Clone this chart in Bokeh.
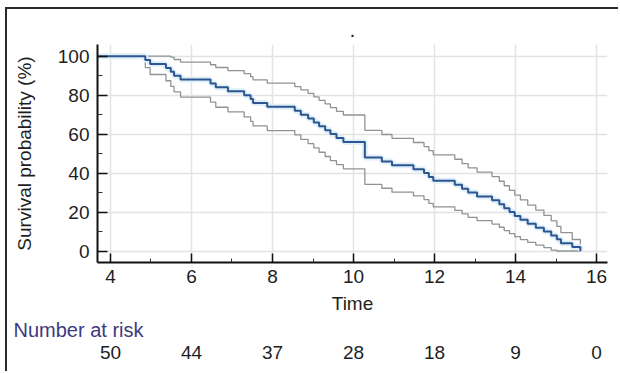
from bokeh.plotting import figure
from bokeh.models import Range1d, FixedTicker, LinearAxis, Title
from bokeh.embed import file_html
from bokeh.resources import INLINE

# ---- data (Kaplan-Meier estimate, n = 50) ----
event_time = [0, 4.86, 4.98, 5.37, 5.49, 5.57, 5.73,
              6.47, 6.6, 6.9, 7.3, 7.46, 7.52, 7.87,
              8.55, 8.7, 8.88, 9.02, 9.15, 9.3, 9.43, 9.58, 9.75,
              10.28, 10.7, 10.95, 11.48, 11.74, 11.86, 11.97,
              12.5, 12.68, 12.83, 13.05, 13.42, 13.6, 13.72, 13.85, 13.98,
              14.12, 14.3, 14.5, 14.7, 14.88, 15.02, 15.12, 15.4, 15.6]
survival = [100, 98, 96, 94, 92, 90, 88,
            86, 84, 82, 80, 78, 76, 74,
            72, 70, 68, 66, 64, 62, 60, 58, 56,
            48, 46, 44, 42, 40, 38, 36,
            34, 32, 30, 28, 26, 24, 22, 20, 18,
            16, 14, 12, 10, 8, 6, 4, 2, 0]
upper_ci = [100, 100, 100, 100, 99.5, 98.3, 97.0,
            95.6, 94.2, 92.6, 91.1, 89.5, 87.8, 86.2,
            84.4, 82.7, 80.9, 79.1, 77.3, 75.5, 73.6, 71.7, 69.8,
            61.9, 59.8, 57.8, 55.7, 53.6, 51.5, 49.3,
            47.1, 44.9, 42.7, 40.5, 38.2, 35.8, 33.5, 31.1, 28.7,
            26.2, 23.6, 21.0, 18.3, 15.5, 12.6, 9.4, 5.9, 0]
lower_ci = [100, 94.1, 90.6, 87.4, 84.5, 81.7, 79.0,
            76.4, 73.8, 71.4, 68.9, 66.5, 64.2, 61.8,
            59.6, 57.3, 55.1, 52.9, 50.7, 48.5, 46.4, 44.3, 42.2,
            34.2, 32.2, 30.2, 28.3, 26.4, 24.5, 22.7,
            20.9, 19.1, 17.3, 15.6, 13.8, 12.2, 10.5, 8.9, 7.4,
            5.8, 4.4, 3.0, 1.7, 0.5, 0, 0, 0, 0]

x_ticks = [4, 6, 8, 10, 12, 14, 16]
y_ticks = [0, 20, 40, 60, 80, 100]
risk_times = [4, 6, 8, 10, 12, 14, 16]
number_at_risk = [50, 44, 37, 28, 18, 9, 0]

FONT = "Liberation Sans"
TXT = "#1e1e1e"

p = figure(width=613, height=364, output_backend="svg", toolbar_location=None,
           x_range=Range1d(3.68, 16.27), y_range=Range1d(-5.9, 106),
           min_border_left=90, min_border_right=13, min_border_top=35,
           min_border_bottom=111,
           x_axis_label="Time", y_axis_label="Survival probability (%)")
p.styles = {"margin-left": "5px", "margin-top": "7px",
            "border-left": "2px solid #2a2a2a", "border-top": "2px solid #2a2a2a"}
p.outline_line_color = None
p.background_fill_color = "white"
p.border_fill_color = "white"

p.title.text = "."
p.title.align = "center"
p.title.text_font = FONT
p.title.text_font_size = "14px"
p.title.text_color = TXT
p.title.text_font_style = "bold"
p.title.standoff = 16

# grids
p.xgrid.ticker = FixedTicker(ticks=x_ticks)
p.ygrid.ticker = FixedTicker(ticks=y_ticks)
for g in (p.xgrid, p.ygrid):
    g.grid_line_color = "#e3e3e3"
    g.grid_line_width = 1.5

# axes
for ax in (p.xaxis[0], p.yaxis[0]):
    ax.axis_line_color = "#111111"
    ax.axis_line_width = 2
    ax.major_tick_line_color = "#111111"
    ax.minor_tick_line_color = "#333333"
    ax.major_tick_line_width = 1.5
    ax.major_tick_out = 0
    ax.minor_tick_out = 0
    ax.major_label_text_font = FONT
    ax.major_label_text_font_size = "19px"
    ax.major_label_text_color = TXT
    ax.axis_label_text_font = FONT
    ax.axis_label_text_font_size = "19px"
    ax.axis_label_text_font_style = "normal"
    ax.axis_label_text_color = TXT

p.xaxis[0].ticker = FixedTicker(ticks=x_ticks, minor_ticks=[5, 7, 9, 11, 13, 15])
p.xaxis[0].major_tick_in = 9
p.xaxis[0].minor_tick_in = 4
p.xaxis[0].major_label_standoff = 7
p.xaxis[0].axis_label_standoff = 7

p.yaxis[0].ticker = FixedTicker(ticks=y_ticks, minor_ticks=[10, 30, 50, 70, 90])
p.yaxis[0].major_tick_in = 10
p.yaxis[0].minor_tick_in = 5
p.yaxis[0].major_label_standoff = 8
p.yaxis[0].axis_label_standoff = 20

# "Number at risk" header and row
risk_title = Title(text="Number at risk", align="left", offset=-84,
                   text_font=FONT, text_font_size="20px",
                   text_font_style="normal", text_color="#3d3a7e", standoff=1)
p.add_layout(risk_title, "below")

risk_axis = LinearAxis(ticker=FixedTicker(ticks=risk_times),
                       major_label_overrides={t: str(n) for t, n in zip(risk_times, number_at_risk)})
risk_axis.axis_line_color = None
risk_axis.major_tick_line_color = None
risk_axis.minor_tick_line_color = None
risk_axis.major_tick_in = 0
risk_axis.major_tick_out = 0
risk_axis.major_label_standoff = 4
risk_axis.major_label_text_font = FONT
risk_axis.major_label_text_font_size = "19px"
risk_axis.major_label_text_color = TXT
p.add_layout(risk_axis, "below")

# curves
p.step(event_time, upper_ci, mode="after", line_color="#8e9494", line_width=1.3)
p.step(event_time, lower_ci, mode="after", line_color="#8e9494", line_width=1.3)
p.step(event_time, survival, mode="after", line_color="#e1eff9", line_width=6)
p.step(event_time, survival, mode="after", line_color="#2b568f", line_width=2)

open("out.html", "w").write(file_html(p, INLINE))
